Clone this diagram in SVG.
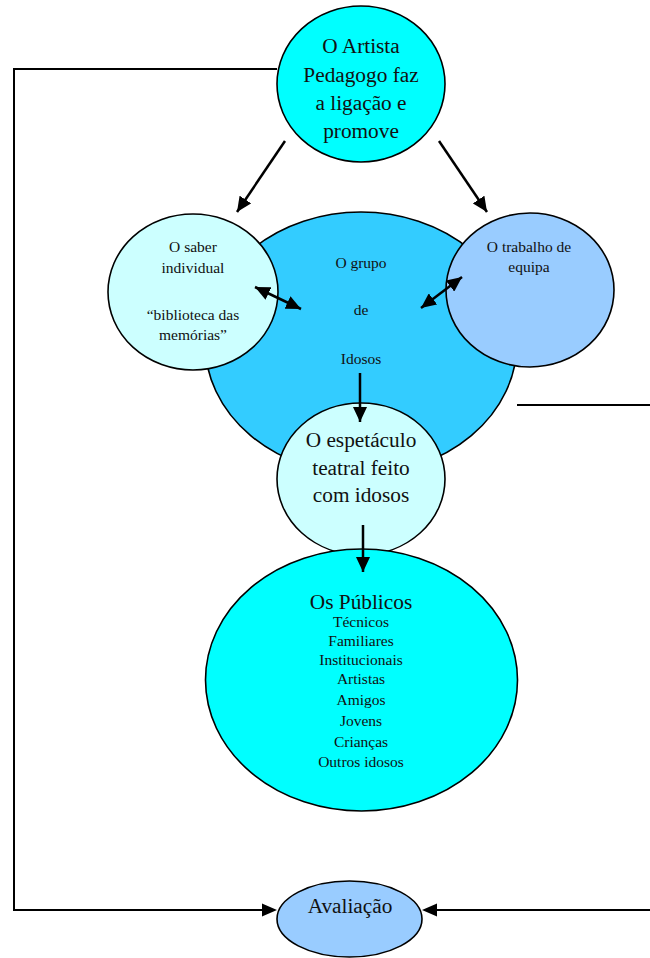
<svg xmlns="http://www.w3.org/2000/svg" width="650" height="958" viewBox="0 0 650 958">
<style>
.n{stroke:#000;stroke-width:1.6}
.t{font-family:"Liberation Serif","Times New Roman",serif;fill:#111;text-anchor:middle}
.s{font-size:15.5px}
.b{font-size:21.3px}
.c{fill:none;stroke:#000;stroke-width:2}
.a{fill:none;stroke:#000;stroke-width:2.5}
</style>
<defs>
<marker id="ah" markerUnits="userSpaceOnUse" markerWidth="16" markerHeight="14" refX="15" refY="7" orient="auto-start-reverse">
<path d="M0,0 L15,7 L0,14 z" fill="#000"/>
</marker>
</defs>
<g id="connectors-back">
<path class="c" d="M277,69 H14 V910 H262"/>
<path class="c" d="M517,405 H652 V910 H437"/>
<path d="M262,903.5 L277,910 L262,916.5 z" fill="#000"/>
<path d="M437,903.5 L422,910 L437,916.5 z" fill="#000"/>
</g>
<g id="grupo">
<ellipse class="n" cx="361" cy="343" rx="156" ry="131" fill="#33CCFF"/>
<text class="t s" x="361" y="268">O grupo</text>
<text class="t s" x="361" y="315">de</text>
<text class="t s" x="361" y="364">Idosos</text>
</g>
<g id="artista">
<ellipse class="n" cx="361" cy="84" rx="84" ry="78" fill="#00FFFF"/>
<text class="t b" x="361" y="53">O Artista</text>
<text class="t b" x="361" y="82">Pedagogo faz</text>
<text class="t b" x="361" y="110">a ligação e</text>
<text class="t b" x="361" y="138">promove</text>
</g>
<g id="saber">
<ellipse class="n" cx="193" cy="292" rx="85" ry="78" fill="#CCFFFF"/>
<text class="t s" x="193" y="252">O saber</text>
<text class="t s" x="193" y="273">individual</text>
<text class="t s" x="193" y="320">“biblioteca das</text>
<text class="t s" x="193" y="340">memórias”</text>
</g>
<g id="trabalho">
<ellipse class="n" cx="530" cy="290" rx="84" ry="77" fill="#99CCFF"/>
<text class="t s" x="529" y="252">O trabalho de</text>
<text class="t s" x="529" y="272">equipa</text>
</g>
<g id="espetaculo">
<ellipse class="n" cx="361" cy="479" rx="84" ry="76" fill="#CCFFFF"/>
<text class="t b" x="361" y="447">O espetáculo</text>
<text class="t b" x="361" y="475">teatral feito</text>
<text class="t b" x="361" y="502">com idosos</text>
</g>
<g id="publicos">
<ellipse class="n" cx="361.5" cy="680" rx="156" ry="131" fill="#00FFFF"/>
<text class="t b" x="361" y="609">Os Públicos</text>
<text class="t s" x="361" y="627">Técnicos</text>
<text class="t s" x="361" y="646">Familiares</text>
<text class="t s" x="361" y="665">Institucionais</text>
<text class="t s" x="361" y="684">Artistas</text>
<text class="t s" x="361" y="705">Amigos</text>
<text class="t s" x="361" y="726">Jovens</text>
<text class="t s" x="361" y="747">Crianças</text>
<text class="t s" x="361" y="767">Outros idosos</text>
</g>
<g id="avaliacao">
<ellipse class="n" cx="349.5" cy="919" rx="72.5" ry="38" fill="#99CCFF"/>
<text class="t b" x="350" y="913">Avaliação</text>
</g>
<g id="connectors">
<line class="a" x1="285" y1="141" x2="237" y2="212" marker-end="url(#ah)"/>
<line class="a" x1="439" y1="141" x2="487" y2="212" marker-end="url(#ah)"/>
<line class="a" x1="255" y1="287" x2="301" y2="309" marker-start="url(#ah)" marker-end="url(#ah)"/>
<line class="a" x1="421" y1="308" x2="462" y2="277" marker-start="url(#ah)" marker-end="url(#ah)"/>
<line class="a" x1="360" y1="373" x2="360" y2="422" marker-end="url(#ah)"/>
<line class="a" x1="363" y1="525" x2="363" y2="572" marker-end="url(#ah)"/>
</g>
</svg>
